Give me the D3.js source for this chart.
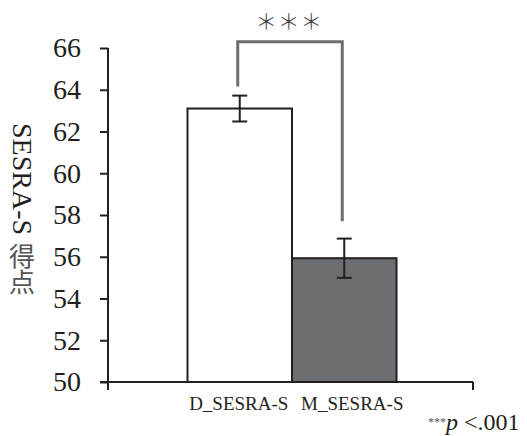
<!DOCTYPE html>
<html><head><meta charset="utf-8">
<script src="https://cdn.jsdelivr.net/npm/d3@7"></script>
</head><body style="margin:0">
<svg id="c" width="527" height="436" font-family="Liberation Serif" style="display:block"></svg>
<script>
const categories = ["D_SESRA-S", "M_SESRA-S"];
const means = [63.1, 55.93];
const errors = [0.62, 0.94];
const fills = ["#ffffff", "#6d6e71"];
const yTicks = [50, 52, 54, 56, 58, 60, 62, 64, 66];
const yLabelLatin = "SESRA-S";
const yLabelCJK = "得点";
const sigLabel = "＊＊＊";
// bracket: top level, left end level, right end level (in score units)
const bracketLevels = [66.3, 64.15, 57.7];

const fontSerif = "Liberation Serif";
const fontCJK = "Noto Sans CJK JP";
const svg = d3.select("#c");
const ink = "#231f20";
const y = d3.scaleLinear().domain([50, 66]).range([382, 48]);
const x = d3.scaleBand().domain(categories).range([187.5, 396.5]).padding(0);
const axisX = 108;

// y axis
const yAxis = svg.append("g").attr("transform", `translate(${axisX},0)`)
  .call(d3.axisLeft(y).tickValues(yTicks).tickSize(8).tickSizeOuter(0).tickPadding(19).tickFormat(d3.format("d")));
yAxis.attr("font-family", fontSerif).attr("font-size", 28);
yAxis.select(".domain").remove();
yAxis.selectAll(".tick line").attr("stroke", ink).attr("stroke-width", 2);
yAxis.selectAll(".tick text").attr("fill", ink).attr("font-family", fontSerif).attr("font-size", 28);
svg.append("line").attr("x1", axisX).attr("x2", axisX).attr("y1", y(66)).attr("y2", y(50) + 8)
  .attr("stroke", ink).attr("stroke-width", 2);

// bars
svg.selectAll("rect.bar").data(categories).join("rect").attr("class", "bar")
  .attr("x", d => x(d)).attr("width", x.bandwidth())
  .attr("y", (d, i) => y(means[i])).attr("height", (d, i) => y(50) - y(means[i]))
  .attr("fill", (d, i) => fills[i]).attr("stroke", ink).attr("stroke-width", 2);

// x axis
svg.append("line").attr("x1", 100).attr("x2", 473).attr("y1", y(50)).attr("y2", y(50))
  .attr("stroke", ink).attr("stroke-width", 2);
svg.append("line").attr("x1", 473).attr("x2", 473).attr("y1", y(50)).attr("y2", y(50) + 8)
  .attr("stroke", ink).attr("stroke-width", 2);

// category labels
const labelDx = [-1, 8];
svg.selectAll("text.cat").data(categories).join("text").attr("class", "cat")
  .attr("x", (d, i) => x(d) + x.bandwidth() / 2 + labelDx[i]).attr("y", 410)
  .attr("text-anchor", "middle").attr("fill", ink)
  .attr("font-family", fontSerif).attr("font-size", 19)
  .text(d => d);

// error bars
categories.forEach((c, i) => {
  const cx = x(c) + x.bandwidth() / 2;
  const g = svg.append("g").attr("stroke", ink).attr("stroke-width", 2);
  g.append("line").attr("x1", cx).attr("x2", cx).attr("y1", y(means[i] + errors[i])).attr("y2", y(means[i] - errors[i]));
  g.append("line").attr("x1", cx - 7.5).attr("x2", cx + 7.5).attr("y1", y(means[i] + errors[i])).attr("y2", y(means[i] + errors[i]));
  g.append("line").attr("x1", cx - 7.5).attr("x2", cx + 7.5).attr("y1", y(means[i] - errors[i])).attr("y2", y(means[i] - errors[i]));
});

// significance bracket
const bx0 = x(categories[0]) + x.bandwidth() / 2 - 2;
const bx1 = x(categories[1]) + x.bandwidth() / 2 - 2;
svg.append("path")
  .attr("d", `M${bx0},${y(bracketLevels[1])}V${y(bracketLevels[0])}H${bx1}V${y(bracketLevels[2])}`)
  .attr("fill", "none").attr("stroke", "#6d6e71").attr("stroke-width", 3);
svg.append("text").attr("x", (bx0 + bx1) / 2 - 1).attr("y", 29).attr("text-anchor", "middle")
  .attr("fill", "#444").attr("font-family", fontCJK).attr("font-size", 22)
  .attr("font-weight", 300).attr("letter-spacing", 0.5)
  .text(sigLabel);

// y label: latin rotated, CJK upright (vertical)
svg.append("text").attr("transform", "translate(13,123) rotate(90)")
  .attr("fill", ink).attr("font-family", fontSerif).attr("font-size", 28)
  .text(yLabelLatin);
svg.append("text").attr("x", 22).attr("y", 243)
  .attr("writing-mode", "tb").attr("fill", "#555").attr("font-family", fontCJK)
  .attr("font-size", 26).attr("font-weight", 400).text(yLabelCJK);

// footnote
const fn = svg.append("text").attr("x", 428).attr("y", 430).attr("fill", ink)
  .attr("font-family", fontSerif).attr("font-size", 24);
fn.append("tspan").attr("font-size", 12).attr("dy", -4).attr("fill", "#555").text("***");
fn.append("tspan").attr("font-style", "italic").attr("dy", 4).text("p");
fn.append("tspan").text(" <.001");
</script>
</body></html>
